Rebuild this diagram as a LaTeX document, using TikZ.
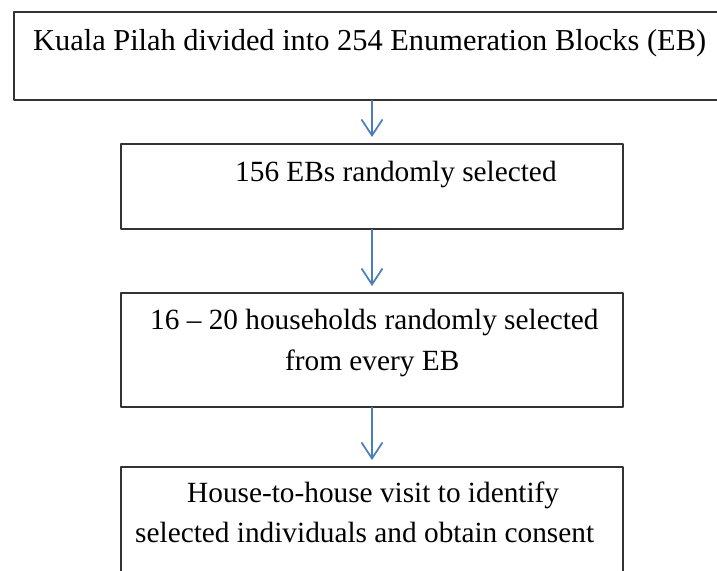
\documentclass[tikz,border=0pt]{standalone}
\usepackage{fontspec}
\setmainfont{Liberation Serif}
\usetikzlibrary{arrows.meta, calc}
\definecolor{flowblue}{RGB}{74,126,187}
\definecolor{framegray}{RGB}{50,50,50}

\begin{document}
\begin{tikzpicture}[x=1pt, y=-1pt, line join=round,
    box/.style={draw=framegray, line width=1.1pt, inner sep=0pt, outer sep=0pt, minimum width=502pt},
    boxtext/.style={anchor=base west, inner sep=0pt, font=\fontsize{29.3}{35}\selectfont},
    flow/.style={draw=flowblue, line width=1.7pt, -{Straight Barb[length=16pt, width=21pt]}, shorten >=7pt}]
    % --- CANVAS ---
    \useasboundingbox (0,0) rectangle (717,570);
    \clip (0,0) rectangle (717,570);

    % --- BOXES ---
    % Top box runs past the right edge of the page
    \node[box, minimum width=716pt, minimum height=88pt] (blocks) at (372,56) {};
    \node[box, minimum height=85pt] (ebsel) at (372,186.5) {};
    \node[box, minimum height=114pt] (house) at (372,350) {};
    % Bottom box runs past the lower edge
    \node[box, minimum height=130pt] (visit) at (372,532) {};

    % --- TEXTS ---
    \node[boxtext, font=\fontsize{30.4}{36}\selectfont] (tblocks) at (33,50) {Kuala Pilah divided into 254 Enumeration Blocks (EB)};
    \node[boxtext] (tebsel) at (235,181) {156 EBs randomly selected};
    \node[boxtext] (thouseA) at (150,329) {16 – 20 households randomly selected};
    \node[boxtext] (thouseB) at (285,370) {from every EB};
    \node[boxtext] (tvisitA) at (187,502) {House-to-house visit to identify};
    \node[boxtext] (tvisitB) at (135,542) {selected individuals and obtain consent};

    % --- ARROWS ---
    \draw[flow] (blocks.south) -- (ebsel.north);
    \draw[flow] (ebsel.south) -- (house.north);
    \draw[flow] (house.south) -- (visit.north);

\end{tikzpicture}
\end{document}
